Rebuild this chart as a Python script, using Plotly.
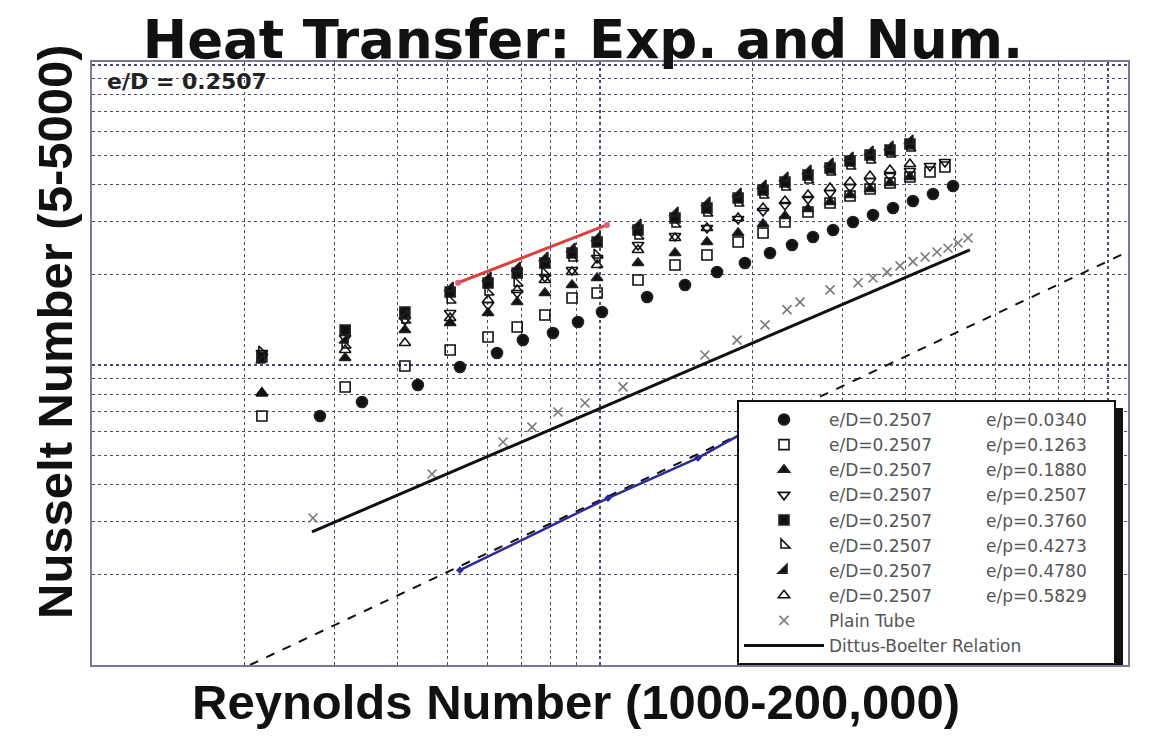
import plotly.graph_objects as go

# ---------------- data ----------------
re_cols = [2160, 3150, 4130, 5070, 6020, 6870, 7790, 8810, 9870, 11880, 14050, 16240,
           18700, 20940, 23130, 25670, 28370, 31060, 34010, 37230, 40750, 44630, 47760]
re_circ = [2810, 3400, 4380, 5300, 6270, 7050, 8080, 9050, 10090, 12380, 14700, 17000,
           19290, 21610, 23880, 26260, 28760, 31480, 34470, 37740, 41310, 45240, 49540]

nu_ep0340 = [67.6, 75.3, 85.8, 98.5, 109.7, 121.2, 127.9, 139.1, 150.2, 168.5, 184.8, 204.1,
             218.7, 236.2, 251.2, 267.1, 281.8, 299.7, 316.2, 333.7, 352.1, 371.5, 395.1]
nu_ep1263 = [67.6, 84.5, 99.2, 112.2, 124.0, 133.8, 146.8, 167.3, 173.8, 192.0, 215.4, 232.6,
             257.0, 275.4, 299.7, 323.6, 346.7, 365.9, 386.0, 404.3, 423.3, 439.9, 457.1]
nu_ep1880 = [80.6, 105.5, 130.8, 138.1, 149.1, 162.2, 173.8, 184.8, 195.0, 218.7, 236.2, 257.0,
             275.4, 295.2, 313.8, 331.1, 349.4, 368.7, 386.0, 404.3, 423.3]
nu_ep2507 = [109.7, 123.1, 141.3, 149.1, 158.5, 173.8, 196.5, 207.3, 227.4, 251.2, 269.1, 286.2,
             306.6, 326.1, 341.5, 357.5, 374.4, 392.0, 410.6, 426.6, 443.3, 460.7, 475.0]
nu_ep3760 = [106.3, 130.8, 150.2, 175.1, 187.7, 202.6, 218.7, 236.2, 257.0, 281.8, 309.0, 333.7,
             360.3, 383.1, 407.5, 429.9, 453.6, 478.7, 501.2, 520.9, 545.3]
nu_ep4273 = [110.5, 116.6, 141.3, 164.7, 175.1, 187.7, 202.6, 227.4, 232.6, 269.1, 295.2, 321.1,
             346.7, 368.7, 392.0, 413.8, 439.9, 460.7, 482.4, 505.1, 529.0]
nu_ep4780 = [103.9, 121.2, 145.7, 180.6, 195.0, 210.5, 227.4, 243.6, 265.1, 292.9, 321.1, 346.7,
             371.5, 395.1, 420.2, 443.3, 467.8, 489.9, 512.9, 533.0, 558.0]
nu_ep5829 = [80.6, 112.2, 118.4, 143.5, 164.7, 177.8, 192.0, 204.1, 215.4, 241.7, 265.1, 286.2,
             309.0, 333.7, 352.1, 368.7, 389.0, 407.4, 426.6, 446.7, 467.8]

re_plain = [2723, 4670, 6444, 7348, 8265, 9344, 11100, 16090, 18610, 21130, 23340, 24760,
            28370, 32210, 34470, 36730, 38960, 41310, 43640, 46060, 48420, 50670, 53030]
nu_plain = [30.9, 43.3, 55.4, 62.1, 69.7, 74.7, 84.5, 108, 121, 136, 153, 162,
            178, 188, 195, 204, 214, 221, 229, 238, 245, 255, 265]

re_db = [2711, 53480]
nu_db = [27.8, 242]
re_dash = [2046, 108000]
nu_dash = [10.0, 236]
re_num = [5300, 10370, 15590, 21130]
nu_num = [20.7, 36.0, 49.0, 65.1]
re_red = [5254, 10320]
nu_red = [188, 293]

ep_labels = ["0.0340", "0.1263", "0.1880", "0.2507", "0.3760", "0.4273", "0.4780", "0.5829"]
series_nu = [nu_ep0340, nu_ep1263, nu_ep1880, nu_ep2507, nu_ep3760, nu_ep4273, nu_ep4780, nu_ep5829]
series_re = [re_circ, re_cols, re_cols, re_cols, re_cols, re_cols, re_cols, re_cols]
series_sym = ["circle", "square-open", "triangle-up", "triangle-down-open", "square",
              "triangle-sw-open", "triangle-se", "triangle-up-open"]

x_major = [1000, 10000, 100000]
x_minor = [m * d for d in (1000, 10000) for m in range(2, 10)]
y_major = [10, 100, 1000]
y_minor = [m * d for d in (10, 100) for m in range(2, 10)]

# ---------------- figure ----------------
NB = "\u00a0"
fig = go.Figure()

fig.add_trace(go.Scatter(x=re_dash, y=nu_dash, mode="lines", showlegend=False,
                         line=dict(color="#111111", width=2, dash="dash")))
fig.add_trace(go.Scatter(x=re_num, y=nu_num, mode="lines+markers", showlegend=False,
                         line=dict(color="#2a2a9c", width=2.5),
                         marker=dict(symbol="diamond", size=6, color="#2a2a9c")))
fig.add_trace(go.Scatter(x=re_red, y=nu_red, mode="lines+markers", showlegend=False,
                         line=dict(color="#e0403c", width=3),
                         marker=dict(size=6, color="#e0607a")))

for ep, rx, ny, sym in zip(ep_labels, series_re, series_nu, series_sym):
    name = "e/D=0.2507" + NB * 10 + "e/p=" + ep + NB * 4
    fig.add_trace(go.Scatter(
        x=rx[:len(ny)], y=ny, mode="markers", name=name,
        marker=dict(symbol=sym, size=11 if sym == "circle" else 10, color="#111111",
                    line=dict(color="#222222", width=1.6))))

fig.add_trace(go.Scatter(x=re_plain, y=nu_plain, mode="markers", name="Plain Tube",
                         marker=dict(symbol="x-thin-open", size=9, color="#7a7a7a",
                                     line=dict(color="#7a7a7a", width=1.6))))
fig.add_trace(go.Scatter(x=re_db, y=nu_db, mode="lines", name="Dittus-Boelter Relation",
                         line=dict(color="#111111", width=3)))

grid_col = "#4a4a6a"
fig.update_xaxes(type="log", range=[3, 5.0394], showticklabels=False, ticks="",
                 tickmode="array", tickvals=x_major,
                 showgrid=True, gridcolor=grid_col, griddash="dot", gridwidth=2,
                 minor=dict(tickmode="array", tickvals=x_minor, showgrid=True,
                            gridcolor=grid_col, griddash="dot", gridwidth=1.2),
                 showline=True, mirror=True, linecolor="#7a7a98", linewidth=2, zeroline=False)
fig.update_yaxes(type="log", range=[1, 3.01], showticklabels=False, ticks="",
                 tickmode="array", tickvals=y_major,
                 showgrid=True, gridcolor=grid_col, griddash="dot", gridwidth=2,
                 minor=dict(tickmode="array", tickvals=y_minor, showgrid=True,
                            gridcolor=grid_col, griddash="dot", gridwidth=1.2),
                 showline=True, mirror=True, linecolor="#7a7a98", linewidth=2, zeroline=False)

fig.update_layout(
    width=1144, height=728,
    margin=dict(l=84, r=24, t=54, b=71, autoexpand=False),
    paper_bgcolor="white", plot_bgcolor="white",
    title=dict(text="<b>Heat Transfer: Exp. and Num.</b>", x=(583 - 8) / 1144, xanchor="center",
               y=0.9562, yanchor="middle", yref="container",
               font=dict(family="DejaVu Sans, sans-serif", size=53, color="#111111")),
    legend=dict(x=(737 - 92) / 1036, y=(665 - 400) / 603, xanchor="left", yanchor="top",
                bgcolor="white", bordercolor="#111111", borderwidth=2,
                font=dict(family="DejaVu Sans, sans-serif", size=17, color="#555555"),
                itemwidth=80, tracegroupgap=0),
    annotations=[
        dict(text="<b>Reynolds Number (1000-200,000)</b>", xref="paper", yref="paper",
             x=(576 - 92) / 1036, y=(665 - 702) / 603, xanchor="center", yanchor="middle",
             showarrow=False,
             font=dict(family="Liberation Sans, Arial, sans-serif", size=49, color="#111111")),
        dict(text="<b>Nusselt Number (5-5000)</b>", xref="paper", yref="paper",
             x=(55 - 92) / 1036, y=(665 - 332) / 603, xanchor="center", yanchor="middle",
             textangle=-90, showarrow=False,
             font=dict(family="Liberation Sans, Arial, sans-serif", size=49, color="#111111")),
        dict(text="<b>e/D = 0.2507</b>", xref="paper", yref="paper",
             x=(105 - 92) / 1036, y=(665 - 82) / 603, xanchor="left", yanchor="middle",
             showarrow=False,
             font=dict(family="DejaVu Sans, sans-serif", size=22, color="#222222")),
    ],
    shapes=[
        dict(type="rect", xref="paper", yref="paper", layer="above",
             x0=(745 - 92) / 1036, x1=(1123 - 92) / 1036,
             y0=(665 - 665) / 603, y1=(665 - 408) / 603,
             fillcolor="#111111", line=dict(width=0)),
    ],
)

fig.write_html("out.html")
